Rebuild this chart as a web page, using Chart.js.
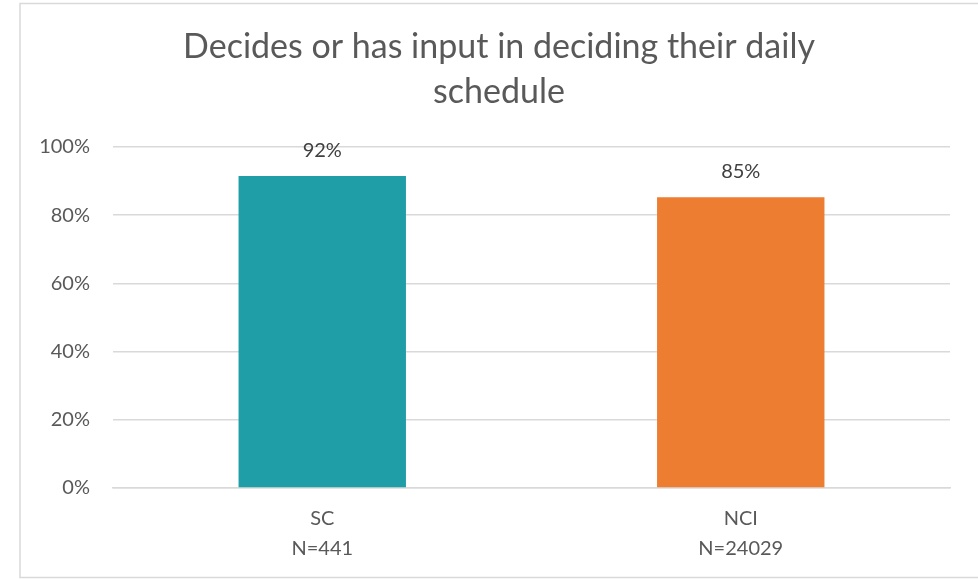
<!DOCTYPE html>
<html>
<head>
<meta charset="utf-8">
<script src="https://cdn.jsdelivr.net/npm/chart.js@4.4.0/dist/chart.umd.min.js"></script>
<style>
html,body{margin:0;padding:0;background:#fff;}
#wrap{position:absolute;left:0;top:0;width:978px;height:579px;}
</style>
</head>
<body>
<div id="wrap"><canvas id="c" width="978" height="579"></canvas></div>
<script>
const categories = [["SC","N=441"],["NCI","N=24029"]];
const values = [91.5, 85.3];
const valueLabels = ["92%","85%"];
const barColors = ["#209EA7","#ED7D31"];
const titleLines = ["Decides or has input in deciding their daily","schedule"];
const yTicks = [0,20,40,60,80,100];

const borderPlugin = {
  id:'frame',
  beforeDraw(chart){
    const ctx = chart.ctx;
    ctx.save();
    ctx.fillStyle='#fff';
    ctx.fillRect(0,0,chart.width,chart.height);
    ctx.strokeStyle='#D9D9D9';
    ctx.lineWidth=1.5;
    ctx.strokeRect(20,3.5,1000,574);
    ctx.restore();
  }
};
const titlePlugin = {
  id:'ctitle',
  afterDraw(chart){
    const ctx = chart.ctx;
    ctx.save();
    ctx.font = '400 34px Lato';
    ctx.fillStyle = '#595959';
    ctx.textAlign = 'center';
    ctx.textBaseline = 'middle';
    const cx = 499;
    titleLines.forEach((t,i)=>ctx.fillText(t, cx, 47.5 + i*45));
    ctx.restore();
  }
};
const labelPlugin = {
  id:'vlabels',
  afterDatasetsDraw(chart){
    const ctx = chart.ctx;
    const meta = chart.getDatasetMeta(0);
    ctx.save();
    ctx.font = '20px Lato';
    ctx.fillStyle = '#404040';
    ctx.textAlign='center';
    ctx.textBaseline='alphabetic';
    meta.data.forEach((bar,i)=>{
      ctx.fillText(valueLabels[i], bar.x, bar.y - 19);
    });
    ctx.restore();
  }
};

new Chart(document.getElementById('c'),{
  type:'bar',
  data:{
    labels:categories,
    datasets:[{data:values,backgroundColor:barColors,barPercentage:0.4,categoryPercentage:1.0}]
  },
  options:{
    responsive:false,
    animation:false,
    devicePixelRatio:1,
    layout:{padding:{left:0,right:28,top:147,bottom:0}},
    plugins:{
      legend:{display:false},
      tooltip:{enabled:false},
      title:{display:false}
    },
    scales:{
      x:{
        grid:{display:false,drawTicks:false},
        border:{display:true,color:'#D9D9D9',width:1.5},
        ticks:{color:'#595959',font:{family:'Lato',size:20,lineHeight:1.47},padding:16},
        afterFit(s){s.height=91;}
      },
      y:{
        min:0,max:100,
        afterBuildTicks(s){s.ticks=yTicks.map(v=>({value:v}));},
        grid:{color:'#D9D9D9',lineWidth:1.5,drawTicks:false},
        border:{display:false},
        ticks:{color:'#595959',font:{family:'Lato',size:20},padding:23,callback:v=>v+'%'},
        afterFit(s){s.width=113;}
      }
    }
  },
  plugins:[borderPlugin,titlePlugin,labelPlugin]
});
</script>
</body>
</html>
